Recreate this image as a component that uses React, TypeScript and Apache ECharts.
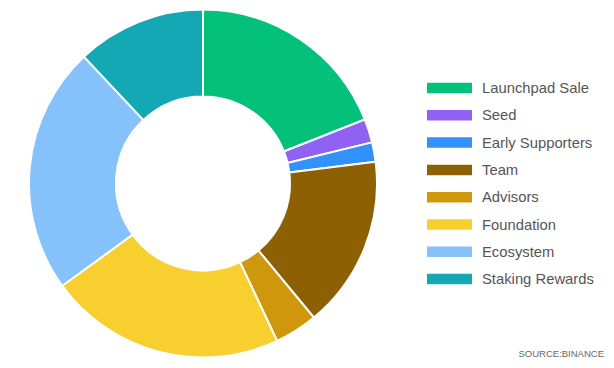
import React, { useEffect, useRef } from "react";
import * as echarts from "echarts";

const categories = ["Launchpad Sale", "Seed", "Early Supporters", "Team", "Advisors", "Foundation", "Ecosystem", "Staking Rewards"];
const values = [19, 2.2, 1.8, 16, 4, 22, 23, 12];
const colors = ["#03c07a", "#9061f3", "#3391fb", "#8d6004", "#cf980c", "#f7d030", "#85c1fa", "#14a8b5"];
const sourceText = "SOURCE:BINANCE";

export default function App() {
  const ref = useRef<HTMLDivElement>(null);
  useEffect(() => {
    document.body.style.margin = "0";
    const chart = echarts.init(ref.current!, null, { renderer: "svg" });
    chart.setOption({
      animation: false,
      color: colors,
      legend: {
        orient: "vertical",
        left: 425,
        top: 80.5,
        padding: 0,
        icon: "rect",
        itemWidth: 47,
        itemHeight: 12.5,
        itemGap: 12.3,
        textStyle: { fontFamily: "Liberation Sans, Arial, sans-serif", fontSize: 14.8, color: "#555", padding: [0, 0, 0, 4] },
        data: categories,
      },
      graphic: [
        {
          type: "text",
          right: 10,
          top: 348,
          style: { text: sourceText, fontFamily: "Liberation Sans, Arial, sans-serif", fontSize: 9.5, fill: "#666" },
        },
      ],
      series: [
        {
          type: "pie",
          center: [203, 183.5],
          radius: [87, 174],
          startAngle: 90,
          label: { show: false },
          labelLine: { show: false },
          itemStyle: { borderColor: "#fff", borderWidth: 2 },
          data: categories.map((name, i) => ({ name, value: values[i] })),
        },
      ],
    });
    return () => chart.dispose();
  }, []);
  return <div ref={ref} style={{ width: 614, height: 368 }} />;
}
